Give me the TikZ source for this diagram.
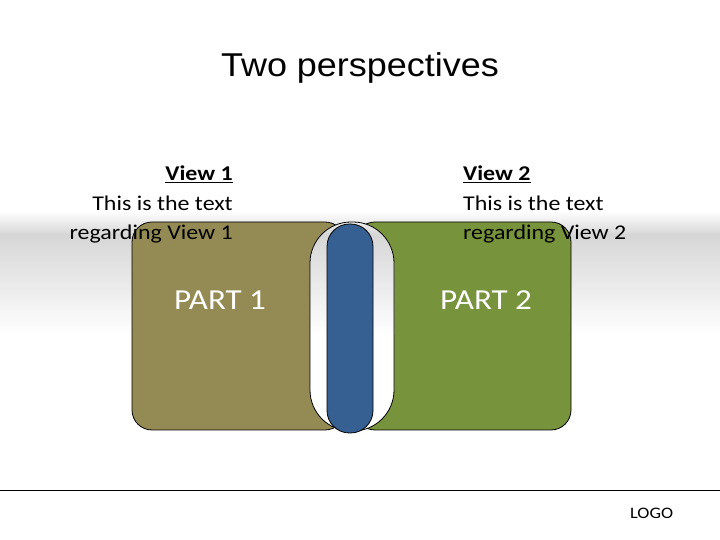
\documentclass[tikz,border=0pt]{standalone}
\usepackage{fontspec}
\setmainfont{Carlito}[FakeStretch=1.14]
\newfontfamily\titlefont{Liberation Sans}[FakeStretch=1.09]
\usepackage{tikz}
\usetikzlibrary{positioning}

\definecolor{partone}{HTML}{948A54}
\definecolor{parttwo}{HTML}{77933C}
\definecolor{divider}{HTML}{376092}
\definecolor{band}{HTML}{D6D6D6}

\begin{document}
\begin{tikzpicture}[x=1pt, y=1pt,
    txt/.style={inner sep=0pt, font=\fontsize{21}{29}\selectfont},
    parttxt/.style={inner sep=0pt, text=white, font=\fontsize{29}{34}\selectfont},
    capsule/.style={draw=black, line width=0.8pt}]
            \useasboundingbox (0,0) rectangle (720,540);

            % grauer Hintergrundstreifen
            \shade[top color=white, bottom color=band] (0,329) rectangle (720,305);
            \shade[top color=band, bottom color=white] (0,305.2) rectangle (720,205);

            % die beiden Teile
            \draw[capsule, fill=partone, rounded corners=20pt] (132,318) rectangle (345,110);
            \draw[capsule, fill=parttwo, rounded corners=20pt] (355,318) rectangle (571,110);

            % weisse Kapsel
            \fill[white, rounded corners=41pt] (310,318) rectangle (394,109);
            \begin{scope}
                \clip[rounded corners=41pt] (310,318) rectangle (394,109);
                \shade[top color=white, bottom color=band] (300,329) rectangle (400,305);
                \shade[top color=band, bottom color=white] (300,305.2) rectangle (400,205);
            \end{scope}
            \draw[capsule, rounded corners=41pt] (310,318) rectangle (394,109);

            % blaue Kapsel
            \draw[capsule, fill=divider, rounded corners=22.5pt] (327,316) rectangle (373,107);

            % Titel
            \node[inner sep=0pt, anchor=base, font=\titlefont\fontsize{33}{38}\selectfont] (titel) at (360,463) {Two perspectives};

            % Texte links
            \node[txt, anchor=base east] (v1) at (233,359) {\textbf{\underline{View 1}}};
            \node[txt, anchor=base east] (v1a) at (233,329) {This is the text};
            \node[txt, anchor=base east] (v1b) at (233,300) {regarding View 1};

            % Texte rechts
            \node[txt, anchor=base west] (v2) at (463,359) {\textbf{\underline{View 2}}};
            \node[txt, anchor=base west] (v2a) at (463,329) {This is the text};
            \node[txt, anchor=base west] (v2b) at (463,300) {regarding View 2};

            % Beschriftung der Teile
            \node[parttxt, anchor=base west] (p1) at (174,230) {PART 1};
            \node[parttxt, anchor=base west] (p2) at (440,230) {PART 2};

            % Fusszeile
            \coordinate (fl) at (0,50);
            \coordinate (fr) at (720,50);
            \draw[line width=0.8pt] (fl) -- (fr);
            \node[inner sep=0pt, anchor=base west, font=\fontsize{16}{19}\selectfont] (logo) at (630,21) {LOGO};
        \end{tikzpicture}
\end{document}
